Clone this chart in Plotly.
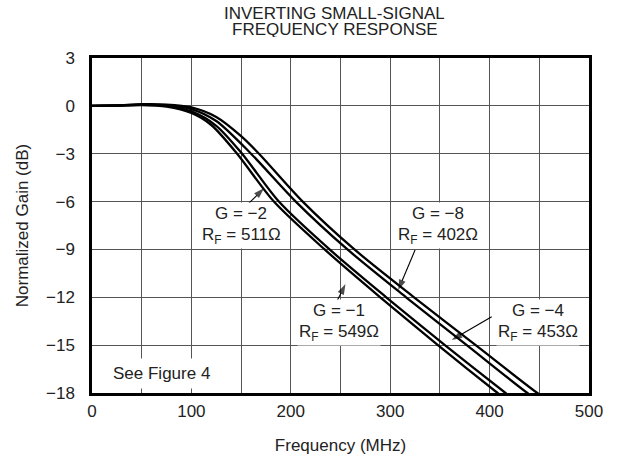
import plotly.graph_objects as go

# ---- data (frequency in MHz, normalized gain in dB) ----
freq_a = [0, 25, 50, 75, 100, 120, 146, 183, 234, 290, 348, 408, 440]
gain_a = [0.0, 0.02, 0.05, -0.05, -0.45, -1.2, -3.0, -6.0, -9.0, -12.0, -15.0, -18.0, -19.6]

freq_b = [0, 25, 50, 75, 100, 125, 151, 188, 239, 296, 355, 416, 450]
gain_b = [0.0, 0.02, 0.06, 0.0, -0.35, -1.25, -3.0, -6.0, -9.0, -12.0, -15.0, -18.0, -19.7]

freq_c = [0, 25, 50, 75, 100, 125, 160, 205, 257, 316, 377, 438, 470]
gain_c = [0.0, 0.03, 0.08, 0.05, -0.2, -0.95, -3.0, -6.0, -9.0, -12.0, -15.0, -18.0, -19.4]

freq_d = [0, 25, 50, 75, 100, 125, 150, 168, 212, 264, 324, 386, 448, 480]
gain_d = [0.0, 0.03, 0.1, 0.08, -0.1, -0.7, -1.9, -3.0, -6.0, -9.0, -12.0, -15.0, -18.0, -19.4]

x_ticks = [0, 100, 200, 300, 400, 500]
y_ticks = [3, 0, -3, -6, -9, -12, -15, -18]

gain_labels = ["G = −2", "G = −8", "G = −1", "G = −4"]
rf_labels = ["R<sub>F</sub> = 511Ω", "R<sub>F</sub> = 402Ω",
             "R<sub>F</sub> = 549Ω", "R<sub>F</sub> = 453Ω"]
label_x = [150, 348, 248.5, 448.7]
gain_label_y = [-6.72, -6.72, -12.80, -12.80]
rf_label_y = [-8.16, -8.16, -14.24, -14.24]

# arrows: tail and tip in data units
arrow_tail_x = [157.2, 325.0, 246.5, 402.1]
arrow_tail_y = [-6.15, -9.04, -12.23, -13.22]
arrow_tip_x = [173.0, 308.1, 255.0, 361.9]
arrow_tip_y = [-5.17, -11.54, -11.17, -14.68]

title_lines = ["INVERTING SMALL-SIGNAL", "FREQUENCY RESPONSE"]

FONT = "Liberation Sans, Arial, Helvetica, sans-serif"
TXT = "#222"

fig = go.Figure()
for fx, g in ((freq_a, gain_a), (freq_b, gain_b), (freq_c, gain_c), (freq_d, gain_d)):
    fig.add_trace(go.Scatter(x=fx, y=g, mode="lines",
                             line=dict(color="black", width=2.3, shape="spline", smoothing=0.8),
                             showlegend=False, hoverinfo="skip"))

for texts, ys in ((gain_labels, gain_label_y), (rf_labels, rf_label_y)):
    for t, x, y in zip(texts, label_x, ys):
        fig.add_annotation(x=x, y=y, xref="x", yref="y", text=t, showarrow=False,
                           font=dict(family=FONT, size=17, color=TXT),
                           bgcolor="white", borderpad=1, align="center")

# pointer arrows: a thin line with an arrow-head marker at the tip
for sx, sy, tx, ty in zip(arrow_tail_x, arrow_tail_y, arrow_tip_x, arrow_tip_y):
    fig.add_trace(go.Scatter(x=[sx, tx], y=[sy, ty], mode="lines+markers",
                             line=dict(color="black", width=1.1),
                             marker=dict(symbol="arrow", size=[0, 11], angleref="previous",
                                         color="black", line=dict(width=0)),
                             showlegend=False, hoverinfo="skip", cliponaxis=False))

fig.add_annotation(x=69.9, y=-16.78, xref="x", yref="y", text="See Figure 4",
                   showarrow=False, font=dict(family=FONT, size=17, color=TXT),
                   bgcolor="white", borderpad=5)
# two title lines, tightly spaced as in the reference
for line, shift in zip(title_lines, (58 - 13, 58 - 29)):
    fig.add_annotation(x=0.4886, y=1, xref="paper", yref="paper", yanchor="middle",
                       yshift=shift, text=line, showarrow=False, height=16,
                       font=dict(family=FONT, size=17, color=TXT))

fig.update_layout(
    width=617, height=466,
    margin=dict(l=92, r=28, t=58, b=73),
    paper_bgcolor="white", plot_bgcolor="white",
    font=dict(family=FONT, size=17, color=TXT),
    xaxis=dict(range=[0, 500], tickvals=x_ticks, showgrid=True, gridcolor="#555", gridwidth=1,
               minor=dict(dtick=50, showgrid=True, gridcolor="#555", gridwidth=1),
               zeroline=False, showline=True, mirror=True, linecolor="black", linewidth=2.5,
               ticks="", ticklabelstandoff=1,
               title=dict(text="Frequency (MHz)", standoff=19, font=dict(size=17))),
    yaxis=dict(range=[-18, 3], tickvals=y_ticks, showgrid=True, gridcolor="#555", gridwidth=1,
               zeroline=False, showline=True, mirror=True, linecolor="black", linewidth=2.5,
               ticks="", ticklabelstandoff=11,
               title=dict(text="Normalized Gain (dB)", standoff=13.5, font=dict(size=17))),
)

fig.write_html("out.html", post_script="document.body.style.margin='0';",
               config={"displayModeBar": False})
